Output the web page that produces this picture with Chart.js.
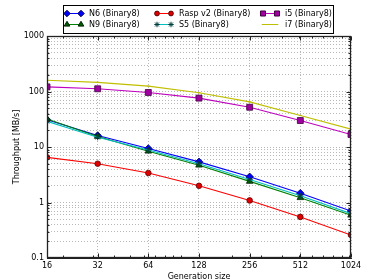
<!DOCTYPE html>
<html>
<head>
<meta charset="utf-8">
<script src="https://cdn.jsdelivr.net/npm/chart.js@4/dist/chart.umd.min.js"></script>
<style>
  html, body { margin: 0; padding: 0; background: #fff; }
  #wrap { width: 374px; height: 280px; }
</style>
</head>
<body>
<div id="wrap"><canvas id="tputChart" width="374" height="280"></canvas></div>
<script>
// generation sizes (x) and throughput in MB/s per device
const genSizes = [16, 32, 64, 128, 256, 512, 1024];
const n6 = [31, 16.1, 9.4, 5.4, 2.9, 1.47, 0.70];
const n9 = [32, 15.5, 8.4, 4.7, 2.4, 1.22, 0.59];
const rasp = [6.5, 5.0, 3.4, 2.0, 1.09, 0.55, 0.26];
const s5 = [29, 15, 8.8, 5.0, 2.6, 1.32, 0.63];
const i5 = [121, 112, 96, 76, 52, 30, 16.8];
const i7 = [159, 146, 125, 95, 65, 37, 21];
const yMajor = [0.1, 1, 10, 100, 1000];

const FONT = 'DejaVu Sans';

const series = [
    { label: 'N6 (Binary8)', data: n6, color: '#0000ff', face: '#0000ff', edge: '#000050', style: 'rectRot', r: 3.8, order: 6 },
    { label: 'N9 (Binary8)', data: n9, color: '#008000', face: '#006000', edge: '#002000', style: 'triangle', r: 3.8, order: 5 },
    { label: 'Rasp v2 (Binary8)', data: rasp, color: '#ff0000', face: '#e00000', edge: '#600000', style: 'circle', r: 2.8, order: 4 },
    { label: 'S5 (Binary8)', data: s5, color: '#00bfbf', face: '#005050', edge: '#004040', style: 'star', r: 3.2, order: 3 },
    { label: 'i5 (Binary8)', data: i5, color: '#bf00bf', face: '#a000a0', edge: '#400040', style: 'rect', r: 4.2, order: 2 },
    { label: 'i7 (Binary8)', data: i7, color: '#bfbf00', face: '#bfbf00', edge: '#bfbf00', style: 'line', r: 1.5, order: 1 }
];

// minor ticks of the log y axis: 1..9 times each decade
const yTicks = [];
yMajor.forEach((d, i) => {
    if (i === yMajor.length - 1) { yTicks.push(d); return; }
    for (let k = 1; k < 10; k++) yTicks.push(+(d * k).toPrecision(3));
});
// base-10 minor tick marks along the x edges (matplotlib style)
const xMinor = [];
[10, 100, 1000].forEach(d => {
    for (let k = 1; k < 10; k++) {
        const v = d * k;
        if (v > 16 && v < 1024) xMinor.push(v);
    }
});

// frame, inner tick marks and boxed legend (filled column by column)
const boxLegend = {
    id: 'boxLegend',
    afterDraw(chart) {
        const ctx = chart.ctx;
        const area = chart.chartArea;
        const xs = chart.scales.x, ys = chart.scales.y;
        const L = Math.round(area.left) + 0.5, R = Math.round(area.right) - 0.5;
        const T = Math.round(area.top) + 0.5, B = Math.round(area.bottom) - 0.5;
        ctx.save();
        ctx.setLineDash([]);
        ctx.strokeStyle = '#222';
        ctx.lineWidth = 1;
        ctx.beginPath();
        xMinor.forEach(v => {
            const px = Math.round(xs.getPixelForValue(v)) + 0.5;
            ctx.moveTo(px, B); ctx.lineTo(px, B - 2);
            ctx.moveTo(px, T); ctx.lineTo(px, T + 2);
        });
        genSizes.forEach(v => {
            const px = Math.round(xs.getPixelForValue(v)) + 0.5;
            ctx.moveTo(px, B); ctx.lineTo(px, B - 4);
            ctx.moveTo(px, T); ctx.lineTo(px, T + 4);
        });
        yTicks.forEach(v => {
            const py = Math.round(ys.getPixelForValue(v)) + 0.5;
            const len = yMajor.includes(v) ? 4 : 2;
            ctx.moveTo(L, py); ctx.lineTo(L + len, py);
            ctx.moveTo(R, py); ctx.lineTo(R - len, py);
        });
        ctx.stroke();

        ctx.lineWidth = 1.3;
        ctx.strokeRect(L, T, R - L, B - T);

        ctx.lineWidth = 1;
        ctx.strokeStyle = '#000';
        ctx.fillStyle = '#fff';
        ctx.fillRect(63, 5, 270, 28);
        ctx.strokeRect(63.5, 5.5, 270, 28);

        const colX = [67, 157, 263];
        const rowY = [13.5, 24.5];
        ctx.font = '8px "' + FONT + '"';
        ctx.textBaseline = 'middle';
        series.forEach((s, i) => {
            const cx = colX[Math.floor(i / 2)];
            const cy = rowY[i % 2];
            ctx.strokeStyle = s.color;
            ctx.lineWidth = 1;
            ctx.beginPath();
            ctx.moveTo(cx, cy);
            ctx.lineTo(cx + 14, cy);
            ctx.stroke();
            ctx.fillStyle = s.face;
            ctx.strokeStyle = s.edge;
            [cx, cx + 14].forEach(px => {
                Chart.helpers.drawPoint(ctx, {
                    pointStyle: s.style, radius: s.r * 0.85, rotation: 0, borderWidth: 0.8
                }, px, cy);
            });
            ctx.fillStyle = '#000';
            ctx.fillText(s.label, cx + 22, cy + 0.5);
        });
        ctx.restore();
    }
};

new Chart(document.getElementById('tputChart'), {
    type: 'line',
    data: {
        labels: genSizes,
        datasets: series.map(s => ({
            label: s.label,
            data: genSizes.map((g, i) => ({ x: g, y: s.data[i] })),
            borderColor: s.color,
            backgroundColor: s.face,
            pointBackgroundColor: s.face,
            pointBorderColor: s.edge,
            pointStyle: s.style,
            pointRadius: s.r,
            pointBorderWidth: s.style === 'line' ? 1 : 0.8,
            borderWidth: 1.1,
            tension: 0,
            fill: false,
            order: s.order
        }))
    },
    options: {
        responsive: false,
        animation: false,
        devicePixelRatio: 1,
        layout: { padding: { top: 36, right: 23, left: 0, bottom: 0 } },
        plugins: {
            legend: { display: false },
            tooltip: { enabled: false }
        },
        scales: {
            x: {
                type: 'logarithmic',
                min: 16,
                max: 1024,
                afterBuildTicks: scale => { scale.ticks = genSizes.map(v => ({ value: v })); },
                afterFit: scale => { scale.height = 22; },
                ticks: {
                    autoSkip: false,
                    maxRotation: 0,
                    padding: 3,
                    color: '#000',
                    font: { family: FONT, size: 8 },
                    callback: v => String(v)
                },
                grid: { color: 'rgba(0,0,0,0.28)', drawTicks: false, lineWidth: 1 },
                border: { display: true, color: '#222', dash: [1, 2] },
                title: {
                    display: true,
                    text: 'Generation size',
                    color: '#000',
                    font: { family: FONT, size: 8 },
                    padding: { top: 0, bottom: -2 }
                }
            },
            y: {
                type: 'logarithmic',
                min: 0.1,
                max: 1000,
                afterBuildTicks: scale => { scale.ticks = yTicks.map(v => ({ value: v })); },
                afterFit: scale => { scale.width = 47; },
                ticks: {
                    autoSkip: false,
                    padding: 3,
                    color: '#000',
                    font: { family: FONT, size: 8 },
                    callback: v => (yMajor.includes(v) ? String(v) : '')
                },
                grid: { color: 'rgba(0,0,0,0.28)', drawTicks: false, lineWidth: 1 },
                border: { display: true, color: '#222', dash: [1, 2] },
                title: {
                    display: true,
                    text: 'Throughput [MB/s]',
                    color: '#000',
                    font: { family: FONT, size: 8 },
                    padding: { top: 12, bottom: 0 }
                }
            }
        }
    },
    plugins: [boxLegend]
});
</script>
</body>
</html>
